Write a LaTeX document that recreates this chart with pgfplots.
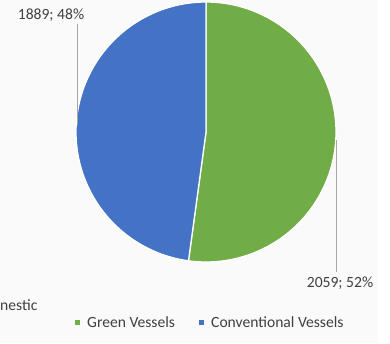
\documentclass[border=0pt]{standalone}
\usepackage{pgfplots}
\pgfplotsset{compat=1.18}
\usepackage{pgfplotstable}
\usepackage{fontspec}
\setmainfont{Carlito}
\definecolor{pgreen}{HTML}{70AD47}
\definecolor{pblue}{HTML}{4472C4}
\definecolor{ptext}{HTML}{404040}
\definecolor{pline}{HTML}{A6A6A6}
\pgfplotstableread{
label value
Green 2059
Conventional 1889
}\piedata
\pgfplotstablegetelem{0}{value}\of\piedata \let\vg\pgfplotsretval
\pgfplotstablegetelem{1}{value}\of\piedata \let\vb\pgfplotsretval
\pgfmathsetmacro\fg{\vg/(\vg+\vb)}
\pgfmathsetmacro\ag{360*\fg}
\pgfmathsetmacro\splitang{90-\ag}
\tikzset{lbl/.style={font=\fontsize{15.6}{18}\selectfont, text=ptext}}
\begin{document}
\begin{tikzpicture}
\begin{axis}[scale only axis, width=390pt, height=343pt,
  xmin=0, xmax=390, ymin=0, ymax=343, axis lines=none, clip=false]
\fill[fill=white] (axis cs:0,0) rectangle (axis cs:390,343);
\fill[fill=black!2] (axis cs:0,0) rectangle (axis cs:378,343);
\addplot[fill=pgreen, draw=white, line width=1.3pt, domain=\splitang:90, samples=180, variable=\t]
  ({206+130*cos(t)},{211+130*sin(t)}) -- (axis cs:206,211) -- cycle;
\addplot[fill=pblue, draw=white, line width=1.3pt, domain=-270:\splitang, samples=180, variable=\t]
  ({206+130*cos(t)},{211+130*sin(t)}) -- (axis cs:206,211) -- cycle;
\draw[pline, line width=0.8pt] (axis cs:77,319) -- (axis cs:77,218);
\draw[pline, line width=0.8pt] (axis cs:336,203) -- (axis cs:336,71);
\node[lbl] at (axis cs:51,328) {1889; 48\%};
\node[lbl] at (axis cs:340,60) {2059; 52\%};
\node[lbl, anchor=west, inner sep=0pt] at (axis cs:0,38) {nestic};
\fill[pgreen] (axis cs:74.5,18.5) rectangle (axis cs:79.5,23.5);
\node[lbl, anchor=west, inner sep=0pt] at (axis cs:87,21) {Green Vessels};
\fill[pblue] (axis cs:198.5,18.5) rectangle (axis cs:203.5,23.5);
\node[lbl, anchor=west, inner sep=0pt] at (axis cs:211,21) {Conventional Vessels};
\end{axis}
\end{tikzpicture}
\end{document}
